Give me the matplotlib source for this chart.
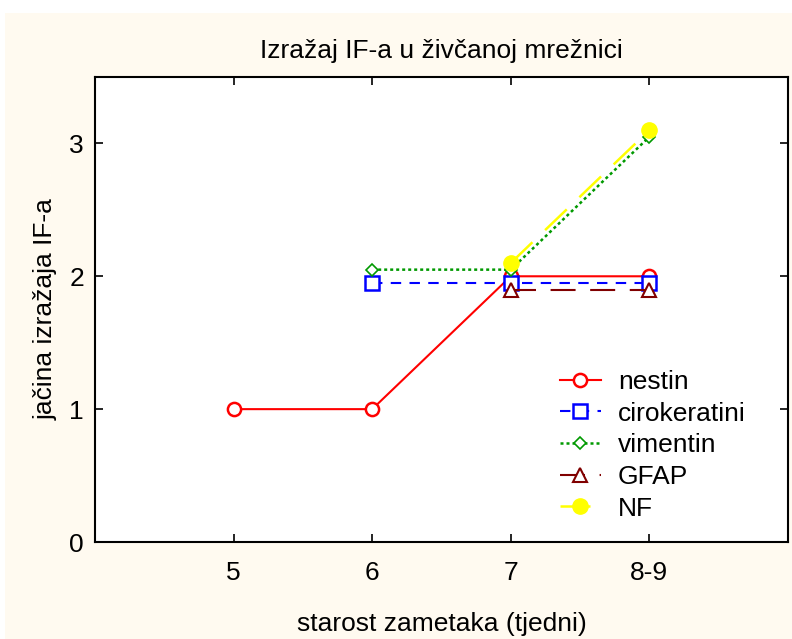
import matplotlib
matplotlib.use("Agg")
import matplotlib.pyplot as plt
from matplotlib.patches import Rectangle

plt.rcParams['font.family'] = ['Liberation Sans', 'DejaVu Sans']

categories = ["5", "6", "7", "8-9"]
x_pos = [1, 2, 3, 4]

nestin = [1.0, 1.0, 2.0, 2.0]
cirokeratini = [None, 1.95, 1.95, 1.95]
vimentin = [None, 2.05, 2.05, 3.05]
gfap = [None, None, 1.9, 1.9]
nf = [None, None, 2.1, 3.1]

title = "Izražaj IF-a u živčanoj mrežnici"
xlabel = "starost zametaka (tjedni)"
ylabel = "jačina izražaja IF-a"

fig = plt.figure(figsize=(7.92, 6.39), dpi=100)
fig.patch.set_facecolor('white')
fig.patches.append(Rectangle((5/792, 0), 1, 1 - 13/639, transform=fig.transFigure,
                             facecolor='#FFFAF0', edgecolor='none', zorder=-10))

ax = fig.add_axes([95/792, 1 - 542/639, (788-95)/792, (542-77)/639])
ax.set_facecolor('white')

def series(vals):
    xs = [x for x, v in zip(x_pos, vals) if v is not None]
    ys = [v for v in vals if v is not None]
    return xs, ys

xs, ys = series(nestin)
ax.plot(xs, ys, color='#FF0000', lw=1.5, ls='-', marker='o', ms=9.5, mfc='white',
        mec='#FF0000', mew=1.8, label='nestin')
xs, ys = series(cirokeratini)
ax.plot(xs, ys, color='#0000FF', lw=1.5, ls=(0, (5, 4)), marker='s', ms=9.5, mfc='white',
        mec='#0000FF', mew=1.8, label='cirokeratini')
xs, ys = series(vimentin)
ax.plot(xs, ys, color='#009900', lw=1.8, ls=(0, (1.2, 1.2)), marker='D', ms=6.5, mfc='white',
        mec='#009900', mew=1.2, label='vimentin')
xs, ys = series(gfap)
ax.plot(xs, ys, color='#800000', lw=1.5, ls=(0, (12, 7)), marker='^', ms=9.5, mfc='white',
        mec='#800000', mew=1.5, label='GFAP')
xs, ys = series(nf)
ax.plot(xs, ys, color='#FFFF00', lw=1.8, ls=(0, (12, 7)), marker='o', ms=11, mfc='#FFFF00',
        mec='#FFFF00', label='NF')

ax.set_xlim(0, 5)
ax.set_ylim(0, 3.5)
ax.set_xticks(x_pos)
ax.set_xticklabels(categories)
ax.set_yticks([0, 1, 2, 3])
ax.tick_params(direction='in', top=True, right=True, length=6, width=1.2,
               labelsize=19)
ax.tick_params(axis='x', pad=14)
ax.tick_params(axis='y', pad=8)
for s in ax.spines.values():
    s.set_linewidth(1.5)

ax.set_title(title, fontsize=19, pad=14)
ax.set_xlabel(xlabel, fontsize=19, labelpad=19)
ax.set_ylabel(ylabel, fontsize=19, labelpad=8)

ax.legend(loc='upper left', bbox_to_anchor=(560/792, 1 - 370/639),
          bbox_transform=fig.transFigure, frameon=False, fontsize=19,
          borderaxespad=0, borderpad=0,
          handlelength=1.55, handletextpad=0.65, labelspacing=0.29)

fig.savefig('out.png', dpi=100, facecolor=fig.get_facecolor())
